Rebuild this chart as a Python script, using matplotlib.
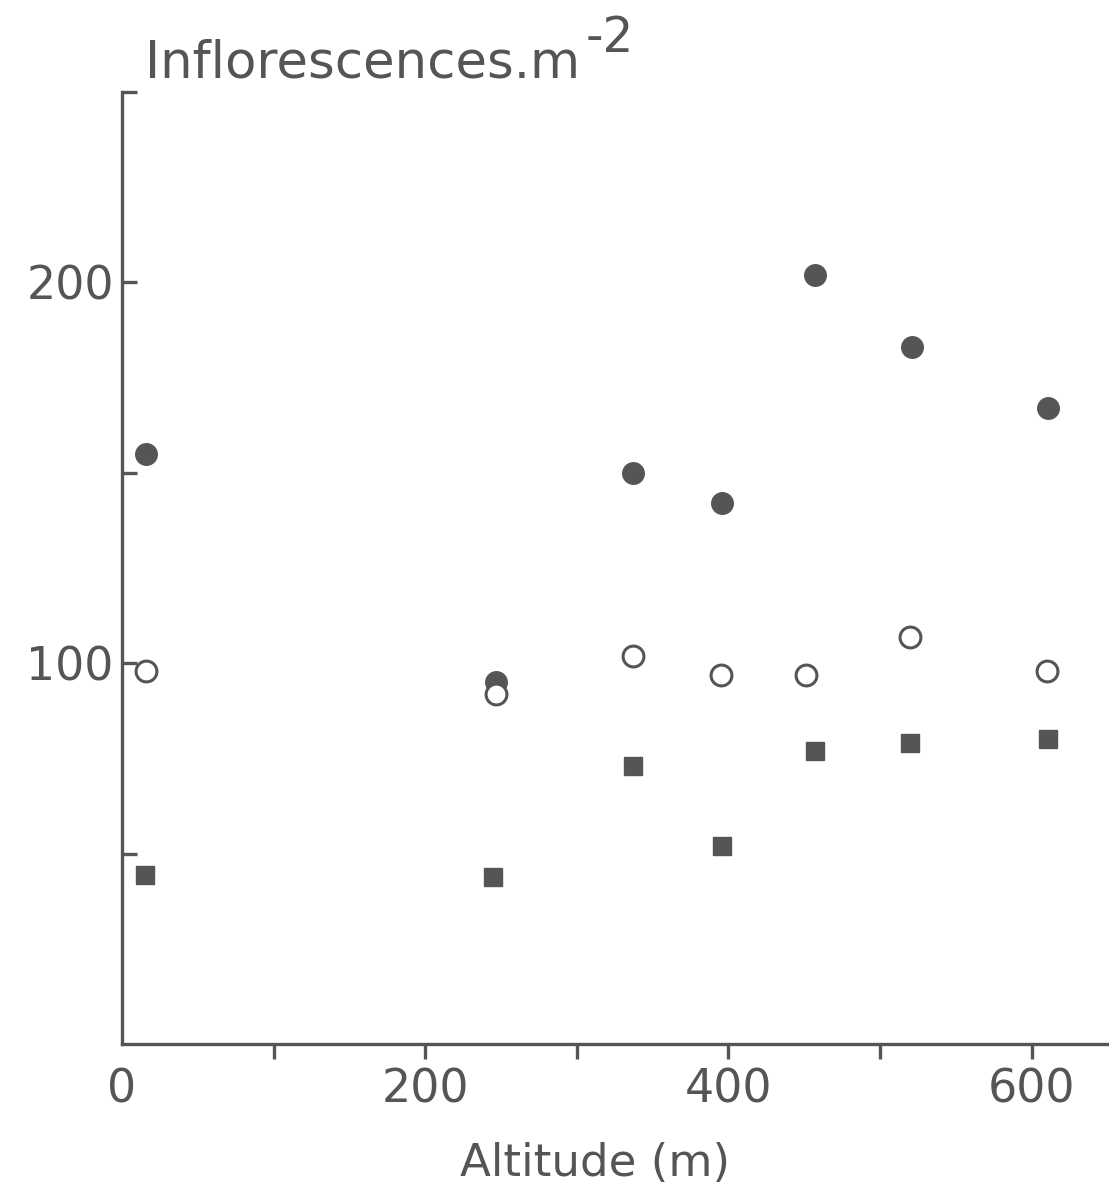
import numpy as np
import matplotlib.pyplot as plt
from matplotlib.ticker import MultipleLocator

# altitude (m) for each site, one list per series
alt_filled = [16, 247, 337, 396, 457, 521, 611]
val_filled = [155, 95, 150, 142, 202, 183, 167]

alt_open = [16, 247, 337, 395, 451, 520, 610]
val_open = [98, 92, 102, 97, 97, 107, 98]

alt_square = [15, 245, 337, 396, 457, 520, 611]
val_square = [44.5, 44, 73, 52, 77, 79, 80]

ink = '#555555'
plt.rcParams['font.family'] = ['DejaVu Sans']

fig = plt.figure(figsize=(11.09, 11.96), dpi=100)
ax = fig.add_axes([0.110, 0.127, 0.890, 0.796])

ax.plot(alt_filled, val_filled, 'o', ms=15.5, color=ink, mec=ink)
ax.plot(alt_open, val_open, 'o', ms=15, mfc='white', mec=ink, mew=2.2)
ax.plot(alt_square, val_square, 's', ms=13, color=ink, mec=ink)

ax.set_xlim(0, 651)
ax.set_ylim(0, 250)

for s in ['top', 'right']:
    ax.spines[s].set_visible(False)
for s in ['left', 'bottom']:
    ax.spines[s].set_linewidth(2.4)
    ax.spines[s].set_color(ink)

ax.set_xticks([0, 200, 400, 600])
ax.xaxis.set_minor_locator(MultipleLocator(100))
ax.set_yticks([50, 100, 150, 200, 250])
ax.set_yticklabels(['', '100', '', '200', ''])

ax.tick_params(axis='x', which='both', direction='out', length=11, width=2.4,
               color=ink, labelcolor=ink, labelsize=33, pad=6)
ax.tick_params(axis='y', direction='in', length=11, width=2.4,
               color=ink, labelcolor=ink, labelsize=33, pad=6)
ax.xaxis.get_major_ticks()[0].tick1line.set_visible(False)

# y axis title, with the exponent set high as in the hand lettering
title = fig.text(145 / 1109, 1 - 77 / 1196, 'Inflorescences.m', fontsize=37,
                 color=ink, ha='left', va='baseline')
ax.annotate('-2', xy=(1, 0), xycoords=title, xytext=(4, 26),
            textcoords='offset points', fontsize=35, color=ink,
            ha='left', va='baseline', annotation_clip=False)
fig.text(595 / 1109, 1 - 1164 / 1196, 'Altitude (m)', fontsize=32.5,
         color=ink, ha='center', va='center')

fig.savefig('out.png', dpi=100, facecolor='white')
